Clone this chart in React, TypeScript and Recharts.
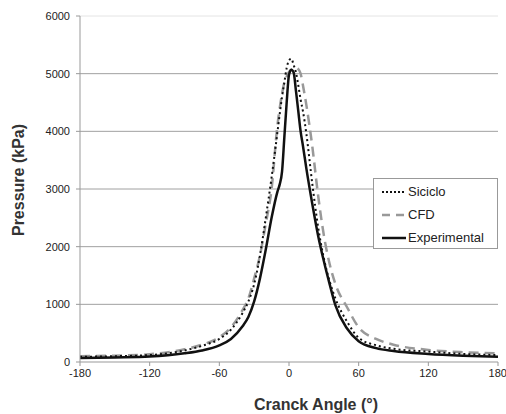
import { CartesianGrid, Legend, Line, LineChart, ReferenceLine, XAxis, YAxis } from "recharts";

const angles = [
  -180, -150, -120, -90, -75, -60, -50, -40, -35, -30, -25, -20, -15, -10, -8, -6, -4, -2, 0, 2, 4, 6, 8,
  10, 12, 15, 20, 25, 30, 35, 40, 50, 60, 75, 90, 120, 150, 180,
];

const siciclo = [
  90, 100, 120, 200, 280, 400, 560, 850, 1050, 1350, 1850, 2500, 3200, 3980, 4300, 4600, 4850, 5100, 5230,
  5260, 5150, 5020, 4800, 4550, 4350, 3950, 3100, 2350, 1800, 1400, 1100, 700, 420, 290, 230, 180, 140, 120,
];

const cfd = [
  100, 110, 135, 220, 300, 430, 600, 900, 1100, 1450, 1850, 2400, 3000, 4100, 4400, 4650, 4850, 4950, 5030,
  5070, 5080, 5100, 5080, 5000, 4800, 4450, 3750, 2900, 2200, 1700, 1350, 950, 600, 400, 300, 210, 170, 150,
];

const experimental = [
  70, 80, 95, 150, 200, 290, 400, 620, 780, 1050, 1450, 1950, 2500, 2950, 3080, 3300, 3900, 4500, 4980,
  5070, 5020, 4700, 4350, 4000, 3750, 3350, 2750, 2200, 1750, 1350, 980, 580, 360, 240, 190, 140, 110, 90,
];

const xTicks = [-180, -120, -60, 0, 60, 120, 180];
const yTicks = [0, 1000, 2000, 3000, 4000, 5000, 6000];
const gridValues = [1000, 2000, 3000, 4000, 5000];

const data = angles.map((a, i) => ({
  angle: a,
  siciclo: siciclo[i],
  cfd: cfd[i],
  experimental: experimental[i],
}));

const FONT = "Arial, 'Liberation Sans', sans-serif";
const tickStyle = { fontSize: 11, fill: "#222", fontFamily: FONT };
const titleStyle = { fontSize: 16, fontWeight: "bold", fill: "#333", fontFamily: FONT };

function LegendBox() {
  const row = (sample: React.ReactNode, label: string) => (
    <div style={{ display: "flex", alignItems: "center", height: 23 }}>
      <svg width={25} height={6} style={{ marginRight: 1 }}>
        {sample}
      </svg>
      <span>{label}</span>
    </div>
  );
  return (
    <div
      style={{
        background: "#fff",
        border: "1px solid #999",
        width: 125,
        height: 71,
        padding: "1px 0 0 8px",
        boxSizing: "border-box",
        fontFamily: FONT,
        fontSize: 13,
        color: "#222",
        textAlign: "left",
      }}
    >
      {row(<line x1={0} y1={3} x2={24} y2={3} stroke="#111" strokeWidth={2} strokeDasharray="2 2" />, "Siciclo")}
      {row(<line x1={0} y1={3} x2={24} y2={3} stroke="#999" strokeWidth={2.5} strokeDasharray="8 6" />, "CFD")}
      {row(<line x1={0} y1={3} x2={24} y2={3} stroke="#111" strokeWidth={2.5} />, "Experimental")}
    </div>
  );
}

export default function App() {
  return (
    <div style={{ position: "absolute", left: 0, top: 0, background: "#fff" }}>
      <LineChart width={506} height={414} data={data} margin={{ top: 16, right: 8, bottom: 22, left: 0 }}>
        <CartesianGrid vertical={false} stroke="#a0a0a0" horizontalValues={gridValues} />
        <ReferenceLine y={6000} stroke="#e4e4e4" />
        <XAxis
          dataKey="angle"
          type="number"
          domain={[-180, 180]}
          ticks={xTicks}
          tick={tickStyle}
          stroke="#999"
          tickSize={4}
          tickMargin={3}
          label={{ value: "Cranck Angle (°)", position: "bottom", offset: 7, dx: 27, style: titleStyle }}
        />
        <YAxis
          type="number"
          domain={[0, 6000]}
          ticks={yTicks}
          tick={tickStyle}
          stroke="#999"
          width={80}
          tickSize={4}
          tickMargin={6}
          label={{
            value: "Pressure (kPa)",
            content: ({ viewBox }: any) => {
              const cy = viewBox.y + viewBox.height / 2 - 9;
              return (
                <text x={18} y={cy} transform={`rotate(-90, 18, ${cy})`} textAnchor="middle" dominantBaseline="central" style={titleStyle}>
                  Pressure (kPa)
                </text>
              );
            },
          }}
        />
        <Legend
          layout="horizontal"
          align="center"
          verticalAlign="middle"
          content={() => <LegendBox />}
          wrapperStyle={{ position: "absolute", left: 373, top: 178, width: 125, height: 71 }}
        />
        <Line
          dataKey="cfd"
          type="monotone"
          stroke="#999"
          strokeWidth={2.5}
          strokeDasharray="10 6"
          dot={false}
          isAnimationActive={false}
        />
        <Line
          dataKey="siciclo"
          type="monotone"
          stroke="#111"
          strokeWidth={2}
          strokeDasharray="2 3"
          dot={false}
          isAnimationActive={false}
        />
        <Line
          dataKey="experimental"
          type="monotone"
          stroke="#111"
          strokeWidth={2.5}
          dot={false}
          isAnimationActive={false}
        />
      </LineChart>
    </div>
  );
}
